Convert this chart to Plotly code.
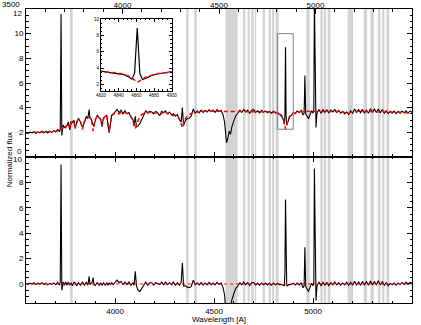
import numpy as np
import plotly.graph_objects as go

# observed spectrum (black) and continuum model (red), wavelength in A
wave = [
    3550, 3560, 3570, 3580, 3590, 3600, 3610, 3620, 3630, 3640,
    3650, 3660, 3670, 3680, 3690, 3700, 3710, 3720, 3723, 3727,
    3731, 3738, 3744, 3750, 3757, 3764, 3771, 3778, 3785, 3792,
    3798, 3805, 3815, 3825, 3835, 3845, 3855, 3862, 3865, 3869,
    3873, 3880, 3885, 3889, 3893, 3900, 3910, 3920, 3927, 3934,
    3941, 3950, 3958, 3964, 3970, 3976, 3983, 3990, 4000, 4010,
    4020, 4030, 4040, 4050, 4060, 4070, 4080, 4090, 4096, 4102,
    4108, 4115, 4125, 4135, 4145, 4155, 4165, 4175, 4185, 4195,
    4205, 4215, 4225, 4235, 4245, 4255, 4265, 4275, 4285, 4295,
    4305, 4315, 4325, 4334, 4340, 4346, 4355, 4365, 4375, 4385,
    4395, 4405, 4415, 4425, 4435, 4445, 4455, 4465, 4475, 4485,
    4495, 4505, 4515, 4525, 4535, 4545, 4553, 4558, 4563, 4570,
    4577, 4583, 4590, 4600, 4610, 4620, 4630, 4640, 4650, 4660,
    4670, 4680, 4690, 4700, 4710, 4720, 4730, 4740, 4750, 4760,
    4770, 4780, 4790, 4800, 4810, 4820, 4830, 4840, 4846, 4851,
    4855, 4858, 4861, 4864, 4867, 4871, 4876, 4882, 4890, 4900,
    4910, 4920, 4930, 4940, 4950, 4955, 4959, 4963, 4970, 4977,
    4985, 4993, 5000, 5004, 5007, 5011, 5015, 5020, 5030, 5040,
    5050, 5060, 5070, 5080, 5090, 5100, 5110, 5120, 5130, 5140,
    5150, 5160, 5170, 5180, 5190, 5200, 5210, 5220, 5230, 5240,
    5250, 5260, 5270, 5280, 5290, 5300, 5310, 5320, 5330, 5340,
    5350, 5360, 5370, 5380, 5390, 5400, 5410, 5420, 5430, 5440,
    5450, 5460, 5470, 5480, 5490, 5500,
]

flux = [
    1.98, 1.92, 2.02, 1.95, 2.06, 1.93, 2.04, 1.97, 2.10, 1.96,
    2.07, 1.95, 2.08, 2.00, 2.14, 2.02, 2.22, 2.05, 2.30, 11.60,
    1.75, 2.60, 2.40, 2.50, 2.55, 2.85, 2.20, 2.85, 2.80, 3.00,
    2.40, 2.70, 3.15, 2.85, 2.40, 2.80, 3.30, 3.10, 3.40, 3.85,
    3.15, 3.05, 2.75, 2.60, 2.50, 2.95, 3.40, 3.15, 3.10, 2.45,
    3.15, 3.30, 3.40, 2.60, 2.05, 2.65, 3.40, 3.45, 3.65, 3.85,
    3.60, 3.80, 3.50, 3.75, 3.50, 3.60, 3.20, 3.05, 2.50, 3.30,
    2.45, 2.50, 2.70, 3.10, 3.50, 3.75, 3.55, 3.70, 3.65, 3.50,
    3.70, 3.60, 3.35, 3.70, 3.60, 3.75, 3.50, 3.65, 3.40, 3.50,
    3.30, 3.45, 3.00, 2.85, 4.00, 2.55, 2.95, 3.10, 3.15, 3.35,
    3.90, 3.55, 3.75, 3.58, 3.80, 3.62, 3.78, 3.65, 3.82, 3.66,
    3.80, 3.62, 3.84, 3.68, 3.78, 3.45, 2.85, 1.90, 1.15, 1.55,
    2.10, 1.85, 2.45, 2.95, 3.35, 3.55, 3.80, 3.62, 3.85, 3.66,
    3.80, 3.55, 3.78, 3.85, 3.62, 3.75, 3.58, 3.78, 3.62, 3.74,
    3.58, 3.70, 3.55, 3.70, 3.55, 3.62, 3.45, 3.35, 3.20, 2.95,
    2.65, 3.40, 8.90, 3.30, 2.60, 2.75, 3.05, 3.25, 3.38, 3.58,
    3.52, 3.72, 3.60, 3.78, 3.40, 3.55, 6.60, 3.50, 3.30, 3.10,
    3.45, 3.75, 3.55, 3.80, 12.80, 3.40, 2.40, 3.55, 3.85, 3.55,
    3.85, 3.62, 3.82, 3.58, 3.80, 3.65, 3.85, 3.62, 3.78, 3.55,
    3.70, 3.50, 3.65, 3.45, 3.75, 3.55, 3.90, 3.62, 3.85, 3.60,
    3.88, 3.58, 3.80, 3.55, 3.92, 3.62, 3.88, 3.60, 3.90, 3.58,
    3.85, 3.55, 3.75, 3.52, 3.70, 3.55, 3.72, 3.52, 3.70, 3.55,
    3.72, 3.58, 3.75, 3.55, 3.72, 3.65,
]

model = [
    1.95, 1.96, 1.96, 1.97, 1.97, 1.98, 1.98, 1.99, 2.00, 2.00,
    2.01, 2.02, 2.03, 2.04, 2.06, 2.08, 2.10, 2.14, 2.17, 2.20,
    2.25, 2.45, 2.50, 2.35, 2.65, 2.70, 2.30, 2.75, 2.95, 2.85,
    2.30, 2.85, 3.05, 2.95, 2.25, 2.90, 3.15, 3.20, 3.25, 3.25,
    3.20, 3.00, 2.60, 2.10, 2.55, 3.05, 3.30, 3.25, 3.00, 2.55,
    3.05, 3.40, 3.30, 2.70, 1.95, 2.70, 3.30, 3.50, 3.55, 3.55,
    3.50, 3.60, 3.55, 3.60, 3.55, 3.45, 3.30, 2.95, 2.60, 2.30,
    2.60, 2.95, 3.30, 3.45, 3.55, 3.60, 3.65, 3.60, 3.55, 3.60,
    3.60, 3.55, 3.40, 3.55, 3.65, 3.60, 3.55, 3.55, 3.45, 3.35,
    3.40, 3.35, 3.10, 2.70, 2.35, 2.70, 3.10, 3.35, 3.45, 3.55,
    3.60, 3.62, 3.65, 3.65, 3.68, 3.70, 3.70, 3.72, 3.70, 3.72,
    3.72, 3.70, 3.72, 3.72, 3.70, 3.70, 3.70, 3.70, 3.70, 3.70,
    3.70, 3.70, 3.70, 3.70, 3.70, 3.72, 3.72, 3.70, 3.70, 3.72,
    3.70, 3.68, 3.70, 3.72, 3.70, 3.70, 3.68, 3.70, 3.68, 3.68,
    3.66, 3.65, 3.65, 3.62, 3.62, 3.58, 3.50, 3.40, 3.25, 3.05,
    2.80, 2.50, 2.25, 2.45, 2.70, 2.90, 3.10, 3.30, 3.42, 3.52,
    3.60, 3.65, 3.68, 3.70, 3.70, 3.70, 3.70, 3.70, 3.70, 3.70,
    3.70, 3.70, 3.70, 3.70, 3.70, 3.70, 3.70, 3.70, 3.70, 3.70,
    3.72, 3.70, 3.70, 3.72, 3.70, 3.72, 3.70, 3.70, 3.68, 3.65,
    3.62, 3.58, 3.52, 3.55, 3.62, 3.65, 3.68, 3.70, 3.70, 3.70,
    3.68, 3.65, 3.62, 3.66, 3.68, 3.70, 3.68, 3.68, 3.65, 3.66,
    3.68, 3.66, 3.65, 3.66, 3.65, 3.62, 3.64, 3.62, 3.62, 3.60,
    3.60, 3.62, 3.60, 3.58, 3.60, 3.58,
]

# masked wavelength windows (grey bands)
band_lo = [3773, 4359, 4400, 4558, 4646, 4669, 4687, 4705, 4745, 4776, 4793,
           4811, 4966, 5037, 5054, 5074, 5175, 5256, 5290, 5327, 5349, 5371]
band_hi = [3786, 4372, 4413, 4619, 4658, 4680, 4700, 4713, 4757, 4788, 4804,
           4826, 4983, 5049, 5066, 5088, 5202, 5273, 5307, 5341, 5361, 5385]

# tick labels
top_ticks = [3500, 4000, 4500, 5000, 5500]
flux_ticks = [0, 2, 4, 6, 8, 10, 12]
resid_ticks = [0, 2, 4, 6, 8, 10]

# zoom window around H-beta
inset_x = [4820, 4900]
inset_y = [1.2, 10.0]
box_y = [2.25, 10.0]

resid = np.array(flux) - np.array(model)

FONT = "Liberation Sans, Arial, Helvetica, sans-serif"
SPLIT = 0.4966

fig = go.Figure()

black = dict(color="black", width=1.1)
red_dash = dict(color="red", width=1.5, dash="4px,3px")

fig.add_trace(go.Scatter(x=wave, y=flux, xaxis="x", yaxis="y", mode="lines",
                         line=black, showlegend=False))
fig.add_trace(go.Scatter(x=wave, y=model, xaxis="x", yaxis="y", mode="lines",
                         line=red_dash, showlegend=False))
# invisible copy so the top (3500-5500) axis gets drawn
fig.add_trace(go.Scatter(x=wave, y=flux, xaxis="x3", yaxis="y", mode="lines",
                         line=dict(width=0), opacity=0, hoverinfo="skip",
                         showlegend=False))
fig.add_trace(go.Scatter(x=wave, y=resid, xaxis="x2", yaxis="y2", mode="lines",
                         line=black, showlegend=False))
fig.add_trace(go.Scatter(x=wave, y=flux, xaxis="x4", yaxis="y4", mode="lines",
                         line=dict(color="black", width=1.2), showlegend=False))
fig.add_trace(go.Scatter(x=wave, y=model, xaxis="x4", yaxis="y4", mode="lines",
                         line=red_dash, showlegend=False))

# grey bands in both panels
for lo, hi in zip(band_lo, band_hi):
    for xr, yr in (("x", "y domain"), ("x2", "y2 domain")):
        fig.add_shape(type="rect", xref=xr, yref=yr, x0=lo, x1=hi, y0=0, y1=1,
                      fillcolor="#d3d3d3", line=dict(width=0), layer="below")

# box marking the inset region
fig.add_shape(type="rect", xref="x", yref="y", x0=inset_x[0], x1=inset_x[1],
              y0=box_y[0], y1=box_y[1], line=dict(color="#808080", width=1))

# zero line of residuals
fig.add_shape(type="line", xref="x2 domain", yref="y2", x0=0, x1=1, y0=0, y1=0,
              line=dict(color="red", width=1, dash="dot"))


def axis(**kw):
    base = dict(showline=True, linecolor="black", linewidth=1, ticks="inside",
                tickcolor="black", ticklen=5, tickwidth=1, showgrid=False,
                zeroline=False, automargin=False,
                tickfont=dict(size=8, color="black", family=FONT),
                minor=dict(ticks="inside", ticklen=2.5, tickcolor="black",
                           tickwidth=1, showgrid=False))
    minor = kw.pop("minor_dtick", None)
    if minor is not None:
        base["minor"]["dtick"] = minor
    base.update(kw)
    return base


# edge labels are placed by hand (as annotations) to keep them clear of each other
top_text = ["" if v == top_ticks[0] else str(v) for v in top_ticks]
flux_text = ["" if v in (flux_ticks[0], flux_ticks[-1]) else str(v) for v in flux_ticks]
resid_text = ["" if v == resid_ticks[-1] else str(v) for v in resid_ticks]

fig.update_layout(
    width=421, height=325,
    margin=dict(l=26, r=9, t=9, b=22),
    template="none",
    paper_bgcolor="white",
    plot_bgcolor="white",
    showlegend=False,
    hovermode=False,
    font=dict(family=FONT, size=8, color="black"),
    xaxis=axis(domain=[0, 1], anchor="y", range=[3550, 5500], tick0=4000,
               dtick=500, minor_dtick=100, showticklabels=False),
    xaxis3=axis(overlaying="x", anchor="y", side="top", range=[3500, 5500],
                tickmode="array", tickvals=top_ticks, ticktext=top_text,
                minor=dict(ticks="inside", ticklen=2.5, tickcolor="black",
                           tick0=3500, dtick=100, showgrid=False),
                ticklabelstandoff=-3),
    yaxis=axis(domain=[SPLIT, 1], anchor="x", range=[0, 12], mirror="ticks",
               tickmode="array", tickvals=flux_ticks, ticktext=flux_text,
               minor_dtick=0.5),
    xaxis2=axis(domain=[0, 1], anchor="y2", range=[3550, 5500], tick0=4000,
                dtick=500, minor_dtick=100, mirror="ticks"),
    yaxis2=axis(domain=[0, SPLIT], anchor="x2", range=[-1.5, 10], mirror="ticks",
                tickmode="array", tickvals=resid_ticks, ticktext=resid_text,
                minor_dtick=0.5),
    xaxis4=axis(domain=[0.1943, 0.3775], anchor="y4", range=inset_x, tick0=4820,
                dtick=20, minor_dtick=5, mirror="ticks", ticklen=3,
                tickfont=dict(size=4.5, color="black", family=FONT)),
    yaxis4=axis(domain=[0.7211, 0.966], anchor="x4", range=inset_y, tick0=0,
                dtick=2, minor_dtick=0.5, mirror="ticks", ticklen=3,
                tickfont=dict(size=4.5, color="black", family=FONT)),
)
for name in ("xaxis4", "yaxis4"):
    fig.layout[name].minor.ticklen = 1.5

lab = dict(showarrow=False, font=dict(size=8), borderpad=0)
fig.add_annotation(text=str(flux_ticks[0]), xref="paper", yref="y", x=0,
                   y=flux_ticks[0], xanchor="right", xshift=-3, yshift=6, **lab)
fig.add_annotation(text=str(flux_ticks[-1]), xref="paper", yref="y", x=0,
                   y=flux_ticks[-1], xanchor="right", xshift=-3, yshift=-4, **lab)
fig.add_annotation(text=str(resid_ticks[-1]), xref="paper", yref="y2", x=0,
                   y=resid_ticks[-1], xanchor="right", xshift=-3, yshift=-3, **lab)
fig.add_annotation(text=str(top_ticks[0]), xref="paper", yref="paper", x=0, y=1,
                   xanchor="right", yanchor="bottom", xshift=-5, yshift=-1, **lab)
fig.add_annotation(text="Wavelength [A]", xref="paper", yref="paper", x=0.5, y=0,
                   yanchor="top", yshift=-11, **lab)
fig.add_annotation(text="Normalized flux", xref="paper", yref="paper", x=-0.058,
                   y=0.486, textangle=-90, **lab)

# page body has a default 8px margin; remove it so the figure fills the window
fig.write_html("out.html", config={"displayModeBar": False},
               post_script="document.body.style.margin = '0';")
